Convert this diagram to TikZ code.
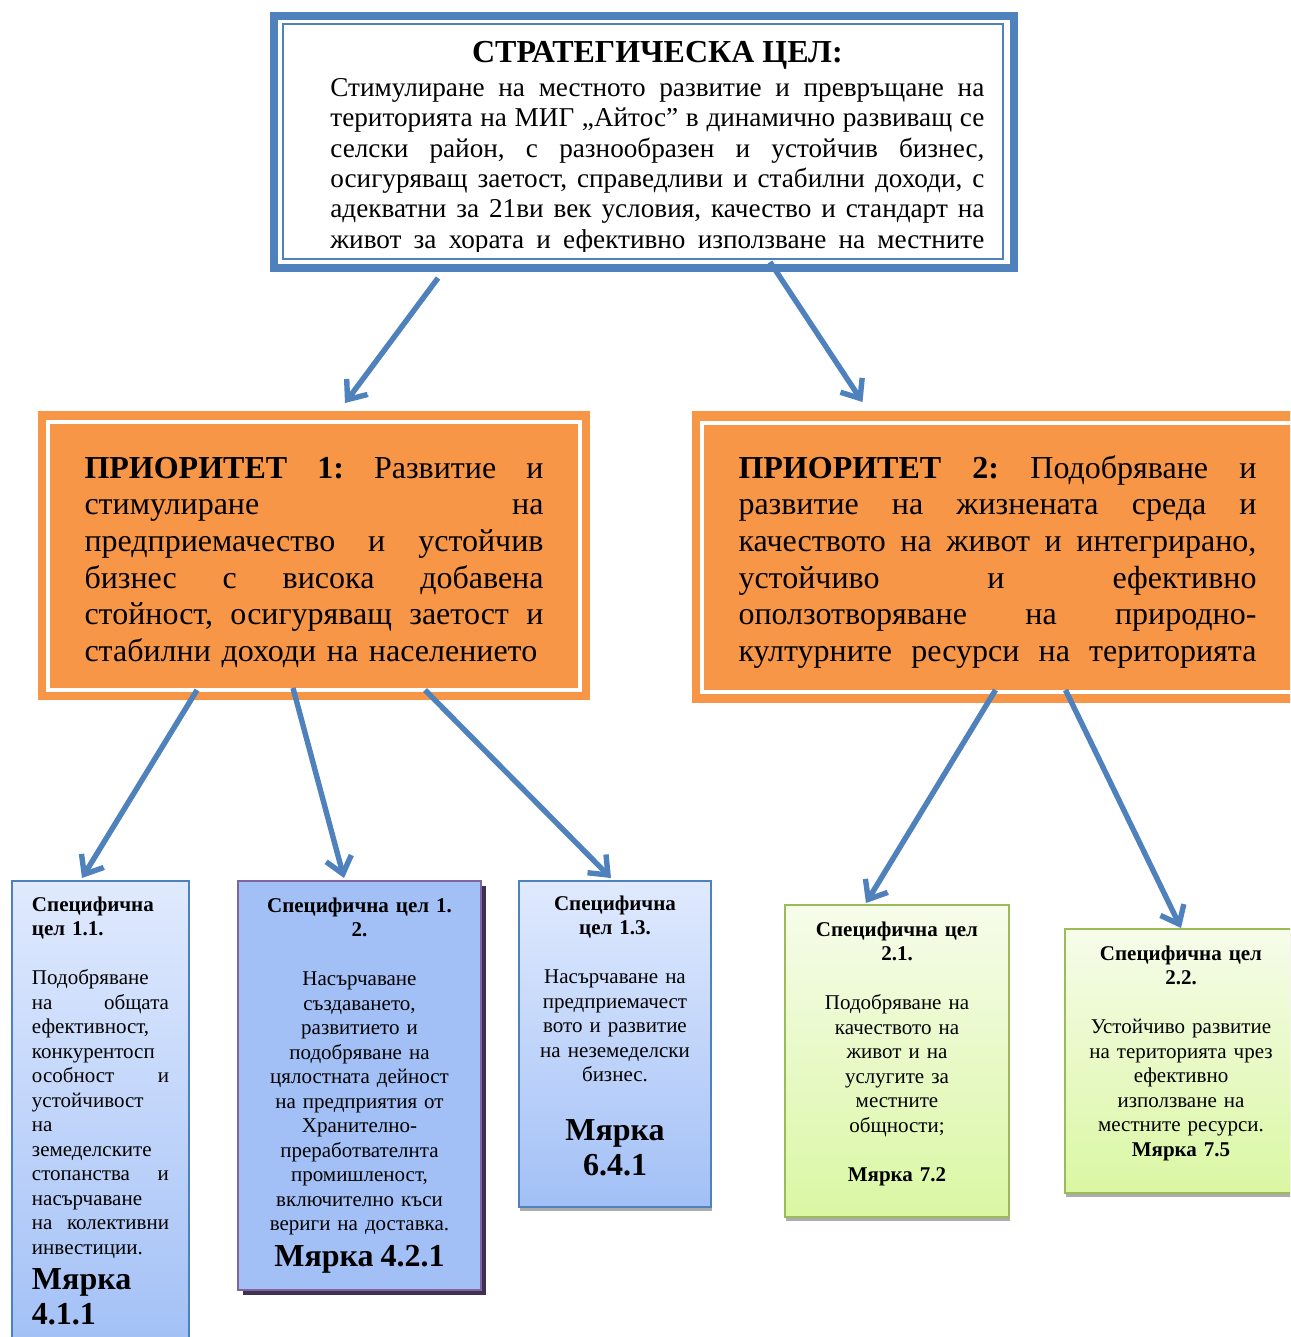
\documentclass[tikz,border=0pt]{standalone}
\usepackage{fontspec}
\setmainfont{Liberation Serif}
\usetikzlibrary{arrows.meta,shadows}

\definecolor{frameblue}{RGB}{79,129,189}
\definecolor{prioorange}{RGB}{247,150,70}
\definecolor{goalgreen}{RGB}{155,187,89}
\definecolor{goalpurple}{RGB}{128,100,162}
\definecolor{purpleshade}{RGB}{64,49,82}
\definecolor{lightblue}{RGB}{224,234,254}
\definecolor{deepblue}{RGB}{162,192,246}
\definecolor{lightgreen}{RGB}{246,252,234}
\definecolor{deepgreen}{RGB}{218,247,163}

\newcommand{\jline}[1]{\leavevmode\hbox to \hsize{\frenchspacing\spaceskip=0pt\xspaceskip=0pt #1}}

\tikzset{
  stratframe/.style={shape=rectangle,draw=frameblue,line width=4pt,fill=white,inner sep=0pt,outer sep=0pt,anchor=north west},
  prio/.style={shape=rectangle,fill=prioorange,inner ysep=0pt,inner xsep=23.25pt,outer sep=0pt,anchor=north west,align=left,font=\fontsize{16}{18.35}\selectfont},
  goalbox/.style={shape=rectangle,line width=0.8pt,inner ysep=0pt,outer sep=0pt,anchor=north west,font=\fontsize{10.5}{12.25}\selectfont},
  bluegoal/.style={goalbox,draw=frameblue,top color=lightblue,bottom color=deepblue},
  greengoal/.style={goalbox,draw=goalgreen,top color=lightgreen,bottom color=deepgreen},
  flatshade/.style={drop shadow={shadow xshift=0.4pt,shadow yshift=-2pt,fill=gray!65,opacity=1}},
  flow/.style={draw=frameblue,line width=2.7pt,-{Straight Barb[length=8pt,width=13pt]},preaction={draw=black!55,transform canvas={shift={(0.7pt,-0.7pt)}}}}
}

\begin{document}
\begin{tikzpicture}[x=0.5pt,y=-0.5pt]
\useasboundingbox (0,0) rectangle (1290,1337);
\clip (0,0) rectangle (1290,1337);

\node[stratframe,minimum width=370pt,minimum height=126pt] (strat) at (274,16) {};
\draw[frameblue,line width=1.2pt] ([shift={(9,8)}]strat.north west) rectangle ([shift={(-11,-9)}]strat.south east);
\begin{scope}
\clip ([shift={(11,10)}]strat.north west) rectangle ([shift={(-13,-17)}]strat.south east);
\node[anchor=base west,inner sep=0pt,text width=327pt,align=left] (strattext) at (330,63) {\jline{\hfil\bfseries\fontsize{16}{18}\selectfont СТРАТЕГИЧЕСКА ЦЕЛ:\hfil}\par
\vspace{1.65pt}\fontsize{13.6}{15.15}\selectfont
\jline{Стимулиране на местното развитие и превръщане на}\\
\jline{територията на МИГ „Айтос” в динамично развиващ се}\\
\jline{селски район, с разнообразен и устойчив бизнес,}\\
\jline{осигуряващ заетост, справедливи и стабилни доходи, с}\\
\jline{адекватни за 21ви век условия, качество и стандарт на}\\
\jline{живот за хората и ефективно използване на местните}\par};
\end{scope}

\node[prio,text width=229.5pt,text height=33.5pt,text depth=111pt] (p1) at (38,411) {\jline{\textbf{ПРИОРИТЕТ 1:} Развитие и}\\ \jline{стимулиране на}\\ \jline{предприемачество и устойчив}\\ \jline{бизнес с висока добавена}\\ \jline{стойност, осигуряващ заетост и}\\ стабилни доходи на населението};
\draw[white,line width=2pt] ([shift={(10,11)}]p1.north west) rectangle ([shift={(-10,-10)}]p1.south east);

\node[prio,text width=259pt,text height=33.5pt,text depth=112.5pt] (p2) at (692,411) {\jline{\textbf{ПРИОРИТЕТ 2:} Подобряване и}\\ \jline{развитие на жизнената среда и}\\ \jline{качеството на живот и интегрирано,}\\ \jline{устойчиво и ефективно}\\ \jline{оползотворяване на природно-}\\ \jline{културните ресурси на територията}};
\draw[white,line width=2pt] ([shift={(10,12)}]p2.north west) rectangle ([shift={(-10,-11)}]p2.south east);

\node[bluegoal,inner xsep=10pt,text width=68.5pt,text height=15pt,text depth=219.5pt,align=left] (s11) at (12,881) {\textbf{Специфична}\\ \textbf{цел 1.1.}\\[12.25pt] Подобряване\\ \jline{на общата}\\ ефективност,\\ конкурентосп\\ \jline{особност и}\\ устойчивост\\ на\\ земеделските\\ \jline{стопанства и}\\ насърчаване\\ \jline{на колективни}\\ инвестиции.\par {\fontsize{16}{17.5}\selectfont\bfseries Мярка\\ 4.1.1\par}};
\node[goalbox,draw=goalpurple,top color=deepblue,middle color=lightblue,bottom color=deepblue,drop shadow={shadow xshift=2.5pt,shadow yshift=-2.5pt,fill=purpleshade,opacity=1},inner xsep=5.75pt,text width=110pt,text height=15.5pt,text depth=189pt,align=center] (s12) at (238,881) {\textbf{Специфична цел 1.}\\ \textbf{2.}\\[12.25pt] Насърчаване\\ създаването,\\ развитието и\\ подобряване на\\ цялостната дейност\\ на предприятия от\\ Хранително-\\ преработвателнта\\ промишленост,\\ включително къси\\ вериги на доставка.\par {\fontsize{16}{18}\selectfont\bfseries Мярка 4.2.1\par}};
\node[bluegoal,flatshade,inner xsep=5pt,text width=86pt,text height=14.5pt,text depth=148.5pt,align=center] (s13) at (519,881) {\textbf{Специфична}\\ \textbf{цел 1.3.}\\[12.25pt] Насърчаване на\\ предприемачест\\ вото и развитие\\ на неземеделски\\ бизнес.\par\vspace{12pt}{\fontsize{16}{17.5}\selectfont\bfseries Мярка\\ 6.4.1\par}};
\node[greengoal,flatshade,inner xsep=6pt,text width=100pt,text height=15.5pt,text depth=140.5pt,align=center] (s21) at (785,905) {\textbf{Специфична цел}\\ \textbf{2.1.}\\[12.25pt] Подобряване на\\ качеството на\\ живот и на\\ услугите за\\ местните\\ общности;\\[12.25pt] \textbf{Мярка 7.2}};
\node[greengoal,flatshade,inner xsep=6pt,text width=104pt,text height=15.5pt,text depth=116.5pt,align=center] (s22) at (1065,929) {\textbf{Специфична цел}\\ \textbf{2.2.}\\[12.25pt] Устойчиво развитие\\ на територията чрез\\ ефективно\\ използване на\\ местните ресурси.\\ \textbf{Мярка 7.5}};

\draw[flow] ([shift={(-206,10)}]strat.south) -- ([shift={(31,-8)}]p1.north);
\draw[flow] ([shift={(126,-6)}]strat.south) -- ([shift={(-135,-9)}]p2.north);
\draw[flow] ([shift={(-117,-10)}]p1.south) -- ([shift={(-18.5,-3)}]s11.north);
\draw[flow] ([shift={(-21,-12)}]p1.south) -- ([shift={(-15.5,-3)}]s12.north);
\draw[flow] ([shift={(111,-10)}]p1.south) -- ([shift={(-4,-3)}]s13.north);
\draw[flow] ([shift={(-2,-13)}]p2.south) -- ([shift={(-31,-2)}]s21.north);
\draw[flow] ([shift={(68,-13)}]p2.south) -- ([shift={(0,-1)}]s22.north);
\end{tikzpicture}
\end{document}
